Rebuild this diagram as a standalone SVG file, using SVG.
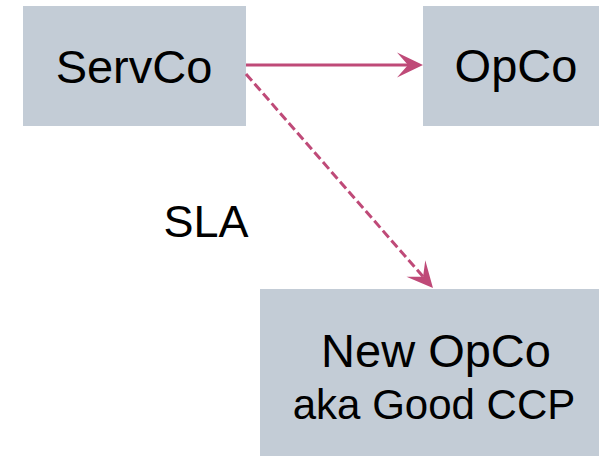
<svg xmlns="http://www.w3.org/2000/svg" width="599" height="456" viewBox="0 0 599 456">
  <style>
    .box { fill: #c3ccd6; }
    .lbl { font-family: "Liberation Sans", Arial, sans-serif; fill: #000; text-anchor: middle; }
    .edge { stroke: #bf4a78; stroke-width: 3; fill: none; }
  </style>
  <defs>
    <marker id="arr" markerUnits="userSpaceOnUse" viewBox="-28 -14 30 28" markerWidth="30" markerHeight="28" refX="-15" refY="0" orient="auto">
      <path d="M0,0 L-26,-12.5 L-15,0 L-26,12.5 Z" fill="#bf4a78"/>
    </marker>
  </defs>
  <rect width="599" height="456" fill="#ffffff"/>
  <g id="servco">
    <rect class="box" x="23" y="6" width="223" height="120"/>
    <text class="lbl" x="134" y="83" font-size="47">ServCo</text>
  </g>
  <g id="opco">
    <rect class="box" x="423" y="6" width="186" height="120"/>
    <text class="lbl" x="516" y="82" font-size="47">OpCo</text>
  </g>
  <g id="newopco">
    <rect class="box" x="260" y="289" width="351" height="180"/>
    <text class="lbl" x="436" y="367" font-size="47">New OpCo</text>
    <text class="lbl" x="434" y="419" font-size="42">aka Good CCP</text>
  </g>
  <g id="connectors">
    <line class="edge" x1="246" y1="65" x2="408" y2="65" marker-end="url(#arr)"/>
    <line class="edge" x1="246" y1="74" x2="423.1" y2="276.7" stroke-dasharray="9 4" marker-end="url(#arr)"/>
    <text class="lbl" x="206" y="237" font-size="45">SLA</text>
  </g>
</svg>
